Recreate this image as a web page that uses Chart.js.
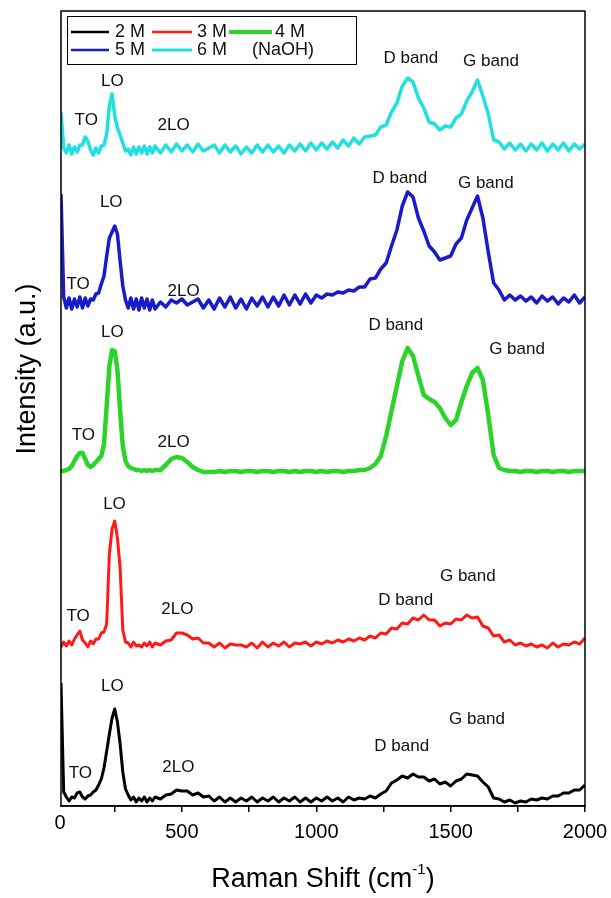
<!DOCTYPE html>
<html>
<head>
<meta charset="utf-8">
<script src="https://cdn.jsdelivr.net/npm/chart.js@4.4.1/dist/chart.umd.min.js"></script>
<style>
  html, body { margin: 0; padding: 0; background: #fff; }
</style>
</head>
<body>
<canvas id="raman" width="611" height="898"></canvas>
<script>
// Raman shift grid (cm-1)
var shift = [
  50, 60, 70, 80, 90, 100, 110, 120, 130, 140, 150, 160, 170, 180, 190, 200, 210, 220,
  230, 240, 250, 260, 270, 280, 290, 300, 310, 320, 330, 340, 350, 360, 370, 380, 390, 400,
  420, 440, 460, 480, 500, 520, 540, 560, 580, 600,
  620, 640, 660, 680, 700, 720, 740, 760, 780, 800,
  820, 840, 860, 880, 900, 920, 940, 960, 980, 1000,
  1020, 1040, 1060, 1080, 1100, 1120, 1140, 1160, 1180, 1200,
  1220, 1240, 1260, 1280, 1300, 1320, 1340, 1360, 1380, 1400,
  1420, 1440, 1460, 1480, 1500, 1520, 1540, 1560, 1580, 1600,
  1620, 1640, 1660, 1680, 1700, 1720, 1740, 1760, 1780, 1800,
  1820, 1840, 1860, 1880, 1900, 1920, 1940, 1960, 1980, 2000
];

// intensities (a.u., already stacked with offsets)
var naoh2M = [
  123, 14, 9, 5, 9, 8, 13, 14, 9, 7, 10, 11, 14, 16, 21, 27, 38, 55,
  72, 88, 97, 84, 62, 34, 17, 11, 6, 9, 4, 8, 5, 9, 4, 8, 5, 9,
  7, 11, 12, 16, 15, 15, 11, 13, 9, 10,
  5, 9, 4, 8, 4, 8, 5, 9, 4, 8,
  5, 9, 4, 8, 5, 9, 4, 8, 4, 8,
  5, 9, 5, 8, 4, 9, 6, 8, 7, 10,
  8, 12, 15, 23, 26, 30, 28, 32, 29, 29,
  25, 27, 22, 24, 20, 25, 27, 32, 31, 30,
  24, 19, 8, 7, 4, 6, 3, 5, 4, 7,
  6, 8, 7, 10, 10, 13, 13, 16, 16, 21
];
var naoh3M = [
  159, 164, 160, 165, 161, 167, 171, 175, 166, 163, 159, 165, 162, 167, 167, 173, 174, 182,
  252, 277, 285, 268, 238, 176, 164, 163, 159, 164, 160, 161, 159, 163, 160, 164, 159, 163,
  161, 165, 166, 173, 173, 171, 167, 168, 163, 163,
  159, 163, 158, 162, 161, 161, 159, 163, 158, 164,
  159, 163, 160, 164, 159, 163, 162, 164, 160, 164,
  162, 165, 163, 166, 164, 167, 165, 168, 166, 170,
  168, 173, 172, 178, 177, 183, 182, 188, 186, 191,
  186, 186, 180, 183, 182, 187, 186, 191, 188, 189,
  180, 178, 170, 171, 164, 166, 161, 163, 160, 162,
  159, 161, 158, 163, 159, 162, 161, 164, 162, 168
];
var naoh4M = [
  335, 335, 336, 337, 340, 345, 350, 353, 353, 347, 341, 339, 341, 344, 347, 350, 362, 400,
  440, 456, 455, 436, 395, 360, 345, 340, 338, 337, 336, 336, 335, 336, 335, 336, 335, 336,
  336, 341, 347, 349, 348, 344, 339, 336, 334, 334,
  334, 335, 334, 335, 335, 334, 335, 335, 334, 335,
  335, 334, 335, 335, 334, 335, 334, 335, 335, 334,
  335, 334, 335, 335, 334, 335, 335, 336, 336, 338,
  342, 350, 370, 395, 420, 445, 458, 450, 430, 411,
  407, 404, 398, 388, 381, 386, 404, 420, 433, 438,
  426, 391, 351, 338, 336, 335, 335, 334, 335, 335,
  334, 335, 335, 334, 335, 335, 334, 335, 335, 335
];
var naoh5M = [
  612, 509, 498, 508, 497, 507, 499, 509, 498, 508, 500, 507, 506, 512, 513, 522, 530, 550,
  568, 574, 580, 572, 545, 520, 506, 498, 508, 497, 507, 496, 508, 498, 507, 496, 506, 497,
  504, 499, 506, 503, 507, 501, 504, 507, 498, 506,
  497, 508, 499, 509, 498, 507, 497, 508, 500, 509,
  499, 509, 500, 511, 501, 511, 502, 512, 503, 511,
  508, 512, 511, 514, 513, 516, 515, 519, 519, 527,
  528, 537, 543, 560, 576, 600, 614, 609, 588, 575,
  560, 554, 546, 548, 550, 562, 568, 586, 598, 610,
  588, 554, 523, 516, 506, 511, 506, 510, 505, 509,
  503, 510, 505, 509, 502, 508, 504, 511, 503, 509
];
var naoh6M = [
  694, 658, 653, 661, 652, 659, 654, 661, 661, 669, 665, 656, 651, 658, 653, 660, 661, 672,
  700, 712, 690, 678, 671, 663, 655, 657, 651, 659, 652, 659, 653, 660, 652, 659, 653, 660,
  653, 661, 654, 662, 655, 661, 654, 662, 655, 658,
  661, 653, 661, 654, 660, 652, 659, 653, 661, 654,
  661, 654, 660, 653, 661, 655, 662, 655, 663, 656,
  663, 657, 664, 658, 666, 660, 668, 662, 669, 670,
  671, 679, 681, 694, 703, 720, 728, 724, 708, 698,
  684, 682, 676, 680, 679, 688, 692, 705, 714, 726,
  710, 692, 666, 664, 657, 663, 656, 662, 655, 662,
  656, 663, 655, 662, 656, 663, 655, 662, 657, 662
];

var seriesNames = ['2 M', '3 M', '4 M', '5 M', '6 M'];
var xTickValues = [250, 500, 750, 1000, 1250, 1500, 1750, 2000];
var xTickLabels = ['', '500', '', '1000', '', '1500', '', '2000'];

// peak labels: text, shift, intensity
var bandLabels = [
  ['TO', 144, 686], ['LO', 241, 725], ['2LO', 469, 681], ['D band', 1352, 748], ['G band', 1650, 745],
  ['TO', 114, 522], ['LO', 237, 604], ['2LO', 506, 515], ['D band', 1311, 628], ['G band', 1631, 623],
  ['TO', 133, 371], ['LO', 241, 474], ['2LO', 469, 364], ['D band', 1296, 481], ['G band', 1747, 457],
  ['TO', 114, 190], ['LO', 249, 302], ['2LO', 483, 197], ['D band', 1333, 206], ['G band', 1564, 230],
  ['TO', 122, 33], ['LO', 241, 120], ['2LO', 487, 39], ['D band', 1318, 60], ['G band', 1598, 87]
];

var FONT = '"Liberation Sans", Arial, sans-serif';

function pairs(ys) {
  return shift.map(function(x, i) { return { x: x, y: ys[i] }; });
}

// legend, frame, titles and labels drawn on top
var ramanDecor = {
  id: 'ramanDecor',
  afterDraw: function(chart) {
    var ctx = chart.ctx;
    var area = chart.chartArea;
    var xs = chart.scales.x;
    var ys = chart.scales.y;
    ctx.save();

    // frame
    ctx.strokeStyle = '#000';
    ctx.lineWidth = 1.5;
    ctx.strokeRect(area.left, area.top, area.right - area.left, area.bottom - area.top);

    // peak labels
    ctx.fillStyle = '#111';
    ctx.font = '17px ' + FONT;
    ctx.textAlign = 'center';
    ctx.textBaseline = 'middle';
    bandLabels.forEach(function(b) {
      ctx.fillText(b[0], xs.getPixelForValue(b[1]), ys.getPixelForValue(b[2]));
    });

    // the lone 0 at the corner
    ctx.fillStyle = '#000';
    ctx.font = '20px ' + FONT;
    ctx.fillText('0', area.left - 1, area.bottom + 17);

    // y title
    ctx.save();
    ctx.translate(28, 369);
    ctx.rotate(-Math.PI / 2);
    ctx.font = '27px ' + FONT;
    ctx.fillText('Intensity (a.u.)', 0, 0);
    ctx.restore();

    // x title with superscript
    var big = '27px ' + FONT, small = '15px ' + FONT;
    ctx.font = big;
    var t1 = 'Raman Shift (cm', t3 = ')';
    var w1 = ctx.measureText(t1).width, w3 = ctx.measureText(t3).width;
    ctx.font = small;
    var w2 = ctx.measureText('-1').width;
    var cx = (area.left + area.right) / 2, cy = 878;
    var x0 = cx - (w1 + w2 + w3) / 2;
    ctx.textAlign = 'left';
    ctx.textBaseline = 'alphabetic';
    ctx.font = big;
    ctx.fillText(t1, x0, cy + 9);
    ctx.font = small;
    ctx.fillText('-1', x0 + w1, cy - 4);
    ctx.font = big;
    ctx.fillText(t3, x0 + w1 + w2, cy + 9);

    // legend box
    var bx = area.left + 6, by = area.top + 5;
    ctx.lineWidth = 1;
    ctx.strokeStyle = '#000';
    ctx.strokeRect(bx + 0.5, by + 0.5, 289, 48);
    var slots = [[4, 38, 48, 16], [85, 40, 130, 16], [162, 43, 208, 16], [4, 38, 48, 34], [85, 40, 130, 34]];
    var legendWidths = [2.5, 2.5, 4, 2.5, 3];
    ctx.font = '18px ' + FONT;
    ctx.textBaseline = 'middle';
    chart.data.datasets.forEach(function(ds, i) {
      var s = slots[i];
      ctx.strokeStyle = ds.borderColor;
      ctx.lineWidth = legendWidths[i];
      ctx.beginPath();
      ctx.moveTo(bx + s[0], by + s[3]);
      ctx.lineTo(bx + s[0] + s[1], by + s[3]);
      ctx.stroke();
      ctx.fillStyle = '#111';
      ctx.fillText(ds.label, bx + s[2], by + s[3]);
    });
    ctx.fillText('(NaOH)', bx + 185, by + 34);

    ctx.restore();
  }
};

var ctx = document.getElementById('raman').getContext('2d');
new Chart(ctx, {
  type: 'line',
  data: {
    datasets: [
      { label: seriesNames[0], data: pairs(naoh2M), borderColor: '#000000', borderWidth: 3 },
      { label: seriesNames[1], data: pairs(naoh3M), borderColor: '#ff1a1a', borderWidth: 3 },
      { label: seriesNames[2], data: pairs(naoh4M), borderColor: '#2ad42a', borderWidth: 4.5 },
      { label: seriesNames[3], data: pairs(naoh5M), borderColor: '#1a1acd', borderWidth: 3.5 },
      { label: seriesNames[4], data: pairs(naoh6M), borderColor: '#22e0e0', borderWidth: 3.5 }
    ]
  },
  options: {
    responsive: false,
    animation: false,
    layout: { padding: { left: 0, right: 26, top: 11, bottom: 0 } },
    elements: {
      point: { radius: 0 },
      line: { tension: 0, borderJoinStyle: 'round', fill: false }
    },
    plugins: {
      legend: { display: false },
      tooltip: { enabled: false }
    },
    scales: {
      x: {
        type: 'linear',
        min: 50,
        max: 2000,
        afterBuildTicks: function(axis) {
          axis.ticks = xTickValues.map(function(v) { return { value: v }; });
        },
        afterFit: function(axis) {
          axis.height = 92;
          axis.paddingLeft = 0;
          axis.paddingRight = 0;
        },
        ticks: {
          autoSkip: false,
          maxRotation: 0,
          padding: 8,
          color: '#000',
          font: { family: FONT, size: 20 },
          callback: function(value, index) { return xTickLabels[index]; }
        },
        grid: { drawOnChartArea: false, tickLength: 6, color: '#000', lineWidth: 1.5 },
        border: { display: true, color: '#000', width: 1.5 }
      },
      y: {
        min: 0,
        max: 795,
        afterFit: function(axis) { axis.width = 61; },
        ticks: { display: false },
        grid: { display: false },
        border: { display: false }
      }
    }
  },
  plugins: [ramanDecor]
});
</script>
</body>
</html>
